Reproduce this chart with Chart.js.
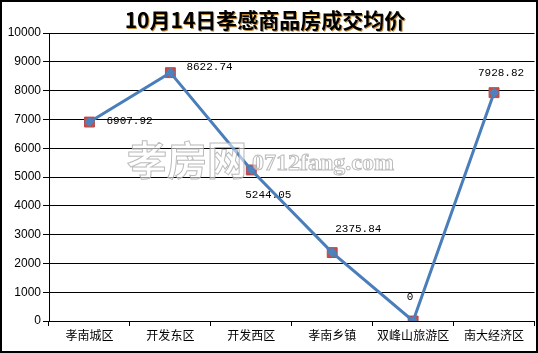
<!DOCTYPE html>
<html>
<head>
<meta charset="utf-8">
<script src="https://cdn.jsdelivr.net/npm/chart.js@4/dist/chart.umd.min.js"></script>
<style>
  html, body { margin: 0; padding: 0; background: #fff; }
  #frame { position: absolute; left: 0; top: 0; width: 538px; height: 353px; box-sizing: border-box; border: 2px solid #000; background: #fff; }
  canvas { display: block; }
</style>
</head>
<body>
<div id="frame"><canvas id="priceChart" width="534" height="349"></canvas></div>
<script>
const titleText = '10月14日孝感商品房成交均价';
const districts = ['孝南城区', '开发东区', '开发西区', '孝南乡镇', '双峰山旅游区', '南大经济区'];
const avgPrices = [6907.92, 8622.74, 5244.05, 2375.84, 0, 7928.82];
const priceLabels = ['6907.92', '8622.74', '5244.05', '2375.84', '0', '7928.82'];

// where excel put each value label, relative to its point
const labelOffsets = [[17, -1, 'left'], [16, -6, 'left'], [17, 25, 'center'], [3, -23, 'left'], [-3, -24, 'center'], [7, -20, 'center']];

const titlePlugin = {
  id: 'titleText',
  afterDraw(chart) {
    const ctx = chart.ctx;
    ctx.save();
    ctx.font = 'bold 21px "Noto Sans CJK SC"';
    ctx.textAlign = 'center';
    ctx.textBaseline = 'middle';
    ctx.fillStyle = '#c08a3a';
    ctx.fillText(titleText, 264, 19);
    ctx.fillStyle = '#000';
    ctx.fillText(titleText, 263, 18);
    ctx.restore();
  }
};

const labelPlugin = {
  id: 'valueLabels',
  afterDatasetsDraw(chart) {
    const ctx = chart.ctx;
    const meta = chart.getDatasetMeta(0);
    ctx.save();
    ctx.font = '11px "Liberation Mono"';
    ctx.fillStyle = '#000';
    ctx.textBaseline = 'middle';
    meta.data.forEach((pt, i) => {
      const [dx, dy, align] = labelOffsets[i];
      ctx.textAlign = align;
      ctx.fillText(priceLabels[i], pt.x + dx, pt.y + dy);
    });
    ctx.restore();
  }
};

const watermarkPlugin = {
  id: 'watermark',
  afterDatasetsDraw(chart) {
    const ctx = chart.ctx;
    ctx.save();
    ctx.fillStyle = 'rgba(255,255,255,0.55)';
    ctx.strokeStyle = 'rgba(170,170,170,0.8)';
    ctx.lineWidth = 1;
    ctx.textBaseline = 'alphabetic';
    ctx.font = 'bold 40px "Noto Sans CJK SC"';
    ctx.fillText('孝房网', 125, 173);
    ctx.strokeText('孝房网', 125, 173);
    ctx.font = 'bold 24px "Liberation Serif"';
    ctx.fillText('0712fang.com', 250, 168, 156);
    ctx.strokeText('0712fang.com', 250, 168, 156);
    ctx.restore();
  }
};

new Chart(document.getElementById('priceChart'), {
  type: 'line',
  data: {
    labels: districts,
    datasets: [
      {
        data: avgPrices,
        borderColor: '#4a7ebb',
        borderWidth: 3,
        tension: 0,
        pointStyle: 'rectRot',
        pointRadius: 5,
        pointBackgroundColor: '#4f81bd',
        pointBorderWidth: 0,
        order: 1
      },
      {
        data: avgPrices,
        showLine: false,
        pointStyle: 'rect',
        pointRadius: 7,
        pointBackgroundColor: '#c0504d',
        pointBorderColor: '#b84a47',
        pointBorderWidth: 1,
        order: 2
      }
    ]
  },
  options: {
    responsive: false,
    animation: false,
    layout: { autoPadding: false, padding: { top: 31, right: 1.5, left: 0, bottom: 0 } },
    plugins: { legend: { display: false }, tooltip: { enabled: false }, title: { display: false } },
    scales: {
      x: {
        offset: true,
        grid: { offset: true, drawOnChartArea: false, color: '#000', tickLength: 5 },
        border: { color: '#000' },
        ticks: { color: '#000', font: { family: '"Noto Sans CJK SC"', size: 12 }, maxRotation: 0, autoSkip: false, padding: 2 },
        afterFit(scale) { scale.height = 30; }
      },
      y: {
        min: 0,
        max: 10000,
        ticks: { stepSize: 1000, color: '#000', font: { family: '"Liberation Sans"', size: 12 }, padding: 2, callback: v => String(v) },
        grid: { color: '#000', tickLength: 6 },
        border: { color: '#000' },
        afterFit(scale) { scale.width = 47; }
      }
    }
  },
  plugins: [titlePlugin, labelPlugin, watermarkPlugin]
});
</script>
</body>
</html>
